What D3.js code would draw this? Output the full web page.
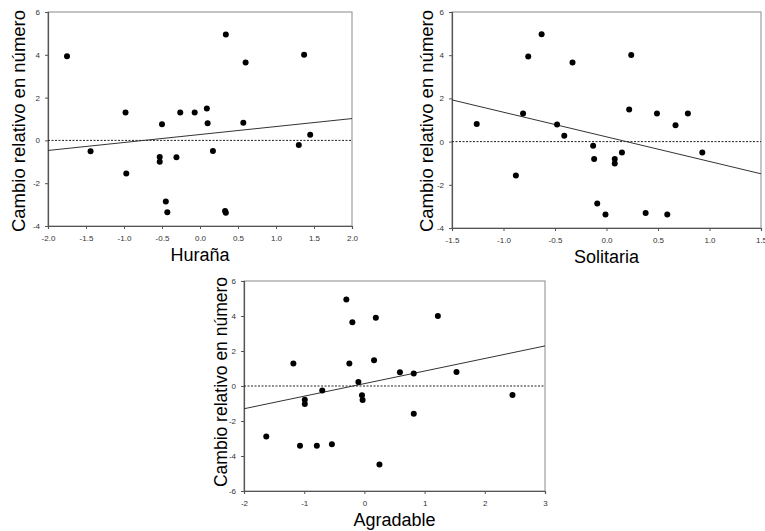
<!DOCTYPE html>
<meta charset="utf-8">
<script src="https://d3js.org/d3.v7.min.js"></script>
<style>
  body { margin: 0; background: #fff; }
  text { font-family: "Liberation Sans", Arial, sans-serif; }
</style>
<div id="chart"></div>
<script>

// data
var hurX = [-1.75, -1.44, -0.98, -0.97, -0.50, -0.53, -0.53, -0.31, -0.45, -0.43, -0.26, -0.07, 0.09, 0.10, 0.17, 0.34, 0.33, 0.34, 0.60, 0.57, 1.30, 1.37, 1.45];
var hurY = [3.93, -0.51, 1.30, -1.55, 0.76, -0.77, -1.00, -0.79, -2.85, -3.36, 1.30, 1.30, 1.49, 0.80, -0.49, 4.95, -3.30, -3.38, 3.64, 0.82, -0.21, 4.00, 0.26];
var hurFit = [-0.47, 1.02];   // line value at x min / x max

var solX = [-1.26, -0.88, -0.81, -0.76, -0.63, -0.48, -0.41, -0.33, -0.13, -0.12, -0.09, -0.01, 0.08, 0.08, 0.15, 0.22, 0.24, 0.38, 0.49, 0.59, 0.67, 0.79, 0.93];
var solY = [0.82, -1.57, 1.30, 3.94, 4.97, 0.79, 0.27, 3.66, -0.19, -0.80, -2.86, -3.38, -0.80, -1.01, -0.50, 1.49, 4.01, -3.31, 1.30, -3.38, 0.76, 1.30, -0.50];
var solFit = [1.93, -1.49];

var agrX = [-1.63, -1.18, -1.07, -0.99, -0.99, -0.79, -0.70, -0.54, -0.30, -0.25, -0.20, -0.10, -0.04, -0.03, 0.16, 0.19, 0.25, 0.59, 0.82, 0.82, 1.22, 1.53, 2.46];
var agrY = [-2.88, 1.28, -3.41, -0.78, -1.03, -3.41, -0.25, -3.33, 4.95, 1.28, 3.64, 0.23, -0.53, -0.80, 1.47, 3.90, -4.48, 0.78, 0.72, -1.58, 4.00, 0.80, -0.51];
var agrFit = [-1.30, 2.29];

var yLabel = "Cambio relativo en número";

var svg = d3.select("#chart").append("svg")
    .attr("width", 765)
    .attr("height", 531);

function drawPanel(p) {
    var width = p.right - p.left,
        height = p.bottom - p.top;

    var g = svg.append("g")
        .attr("transform", "translate(" + p.left + "," + p.top + ")");

    var x = d3.scaleLinear().domain(p.xDomain).range([0, width]);
    var y = d3.scaleLinear().domain(p.yDomain).range([height, 0]);

    // grey frame on top and right
    g.append("rect")
        .attr("width", width)
        .attr("height", height)
        .attr("fill", "none")
        .attr("stroke", "#8a8a8a")
        .attr("stroke-width", 1);

    var xAxis = g.append("g")
        .attr("transform", "translate(0," + height + ")")
        .call(d3.axisBottom(x).tickValues(p.xTicks).tickSize(3).tickPadding(6)
            .tickFormat(p.xFormat));
    var yAxis = g.append("g")
        .call(d3.axisLeft(y).tickValues(p.yTicks).tickSize(3).tickPadding(5)
            .tickFormat(d3.format("d")));

    [xAxis, yAxis].forEach(function (a) {
        a.select(".domain").attr("stroke", "#555").attr("stroke-width", 1.2);
        a.selectAll(".tick line").attr("stroke", "#555");
        a.selectAll(".tick text")
            .attr("fill", "#333")
            .style("font-size", "8px")
            .text(function (d) { return d3.select(this).text().replace("\u2212", "-"); });
    });

    // zero reference
    g.append("line")
        .attr("x1", 0).attr("x2", width)
        .attr("y1", y(0)).attr("y2", y(0))
        .attr("stroke", "#222")
        .attr("stroke-width", 1)
        .attr("stroke-dasharray", "2,1.5");

    // fitted line
    g.append("line")
        .attr("x1", x(p.xDomain[0])).attr("x2", x(p.xDomain[1]))
        .attr("y1", y(p.fit[0])).attr("y2", y(p.fit[1]))
        .attr("stroke", "#333")
        .attr("stroke-width", 1);

    g.selectAll("circle")
        .data(p.xs.map(function (v, i) { return [v, p.ys[i]]; }))
        .enter()
        .append("circle")
        .attr("cx", function (d) { return x(d[0]); })
        .attr("cy", function (d) { return y(d[1]); })
        .attr("r", 3)
        .attr("fill", "#000");

    g.append("text")
        .attr("x", width / 2)
        .attr("y", height + 35)
        .attr("text-anchor", "middle")
        .style("font-size", "18px")
        .text(p.xLabel);

    g.append("text")
        .attr("transform", "translate(" + p.yLabelX + "," + (height / 2 + p.yLabelShift) + ") rotate(-90)")
        .attr("text-anchor", "middle")
        .style("font-size", p.yLabelSize + "px")
        .text(yLabel);
}

drawPanel({
    left: 48, right: 352, top: 12, bottom: 226,
    xDomain: [-2, 2], yDomain: [-4, 6],
    xTicks: [-2, -1.5, -1, -0.5, 0, 0.5, 1, 1.5, 2], yTicks: [-4, -2, 0, 2, 4, 6],
    xFormat: d3.format(".1f"),
    xs: hurX, ys: hurY, fit: hurFit, xLabel: "Huraña",
    yLabelX: -23, yLabelShift: 2, yLabelSize: 18.5
});

drawPanel({
    left: 452, right: 761, top: 12, bottom: 228,
    xDomain: [-1.5, 1.5], yDomain: [-4, 6],
    xTicks: [-1.5, -1, -0.5, 0, 0.5, 1, 1.5], yTicks: [-4, -2, 0, 2, 4, 6],
    xFormat: d3.format(".1f"),
    xs: solX, ys: solY, fit: solFit, xLabel: "Solitaria",
    yLabelX: -19, yLabelShift: 1, yLabelSize: 18.5
});

drawPanel({
    left: 244, right: 545, top: 281, bottom: 491,
    xDomain: [-2, 3], yDomain: [-6, 6],
    xTicks: [-2, -1, 0, 1, 2, 3], yTicks: [-6, -4, -2, 0, 2, 4, 6],
    xFormat: d3.format("d"),
    xs: agrX, ys: agrY, fit: agrFit, xLabel: "Agradable",
    yLabelX: -17, yLabelShift: -4, yLabelSize: 17.5
});
</script>
